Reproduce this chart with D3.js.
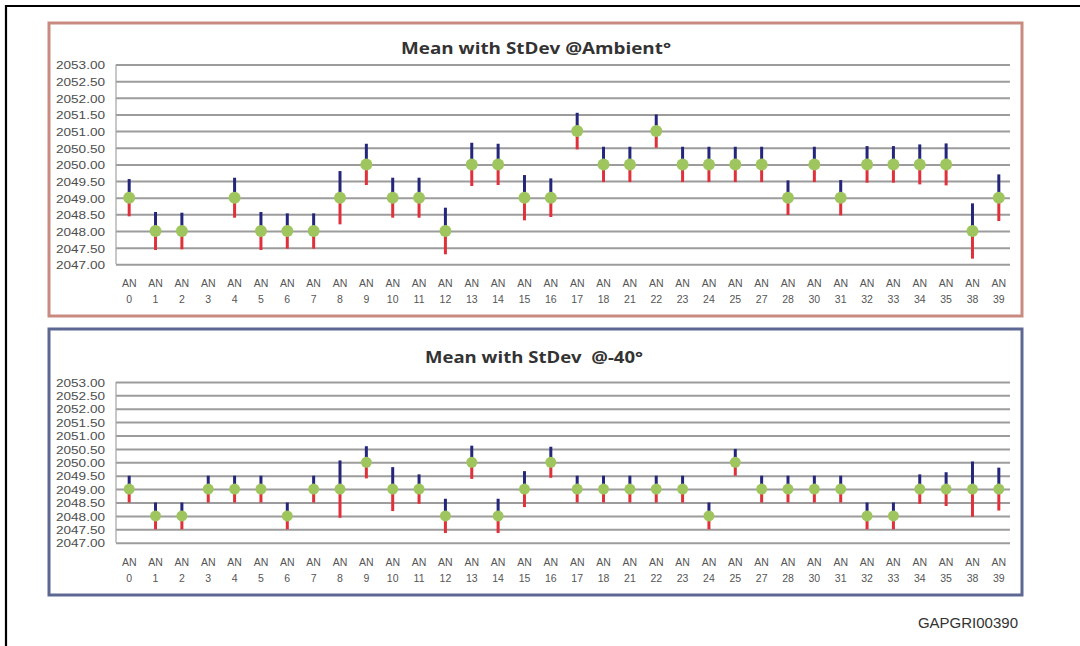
<!DOCTYPE html>
<html>
<head>
<meta charset="utf-8">
<script src="https://cdn.jsdelivr.net/npm/d3@7"></script>
<style>
  html, body { margin: 0; padding: 0; background: #ffffff; }
  svg { display: block; }
</style>
</head>
<body>
<svg id="chart" width="1080" height="646"></svg>
<script>
// Channel labels (AN n) shared by both panels
const categories = ["0","1","2","3","4","5","6","7","8","9","10","11","12","13","14","15","16","17","18",
                    "21","22","23","24","25","27","28","30","31","32","33","34","35","38","39"];

// Mean and standard deviation at ambient temperature (AN 3 has no reading)
const ambientMean = [2049,2048,2048,null,2049,2048,2048,2048,2049,2050,2049,2049,2048,2050,2050,2049,2049,2051,2050,
                     2050,2051,2050,2050,2050,2050,2049,2050,2049,2050,2050,2050,2050,2048,2049];
const ambientSd   = [0.56,0.57,0.55,null,0.6,0.57,0.53,0.53,0.8,0.62,0.6,0.6,0.7,0.65,0.62,0.68,0.58,0.55,0.53,
                     0.53,0.5,0.53,0.53,0.53,0.53,0.52,0.53,0.53,0.55,0.55,0.6,0.63,0.83,0.7];

// Mean and standard deviation at -40°
const coldMean = [2049,2048,2048,2049,2049,2049,2048,2049,2049,2050,2049,2049,2048,2050,2048,2049,2050,2049,2049,
                  2049,2049,2049,2048,2050,2049,2049,2049,2049,2048,2048,2049,2049,2049,2049];
const coldSd   = [0.5,0.5,0.5,0.5,0.5,0.5,0.5,0.5,1.07,0.6,0.82,0.55,0.64,0.62,0.64,0.67,0.58,0.5,0.5,
                  0.5,0.5,0.5,0.5,0.5,0.5,0.5,0.5,0.5,0.5,0.5,0.55,0.63,1.03,0.8];

// Value axis ticks
const yTicks = [2047,2047.5,2048,2048.5,2049,2049.5,2050,2050.5,2051,2051.5,2052,2052.5,2053];

const svg = d3.select("#chart");
const fmt = d3.format(".2f");

// Page frame
svg.append("line").attr("x1", 5).attr("x2", 1080).attr("y1", 6).attr("y2", 6)
  .attr("stroke", "#000").attr("stroke-width", 2.2);
svg.append("line").attr("x1", 6).attr("x2", 6).attr("y1", 5).attr("y2", 646)
  .attr("stroke", "#000").attr("stroke-width", 2.2);

function drawPanel(cfg) {
  const g = svg.append("g");

  // panel box
  g.append("rect")
    .attr("x", cfg.box[0]).attr("y", cfg.box[1])
    .attr("width", cfg.box[2]).attr("height", cfg.box[3])
    .attr("fill", "#ffffff")
    .attr("stroke", cfg.border).attr("stroke-width", 3);

  const x = d3.scaleBand().domain(categories).range([cfg.x0, cfg.x1]).padding(0);
  const y = d3.scaleLinear().domain([2047, 2053]).range([cfg.yBottom, cfg.yTop]);

  // gridlines + value labels
  const yAxis = d3.axisLeft(y)
    .tickValues(yTicks)
    .tickSizeInner(-(cfg.gridEnd - cfg.x0))
    .tickSizeOuter(0)
    .tickPadding(11)
    .tickFormat(fmt);
  const ya = g.append("g").attr("transform", `translate(${cfg.x0},0)`).call(yAxis);
  ya.select(".domain").remove();
  ya.selectAll(".tick line").attr("stroke", "#9c9c9c").attr("stroke-width", 2);
  ya.selectAll(".tick text")
    .attr("font-family", "Liberation Sans, Arial, sans-serif")
    .attr("font-size", cfg.yFont)
    .attr("fill", "#4d4d4d")
    .attr("textLength", 49)
    .attr("lengthAdjust", "spacingAndGlyphs")
    .attr("dy", "0.4em");

  // vertical axis line
  g.append("line")
    .attr("x1", cfg.x0).attr("x2", cfg.x0)
    .attr("y1", y(2053)).attr("y2", y(2047))
    .attr("stroke", "#a3a3a3").attr("stroke-width", 1.2);

  // category labels on two lines
  const xAxis = d3.axisBottom(x).tickSize(0).tickFormat("");
  const xa = g.append("g").attr("transform", `translate(0,${cfg.yBottom})`).call(xAxis);
  xa.select(".domain").remove();
  xa.selectAll(".tick").each(function(d) {
    const t = d3.select(this).append("text")
      .attr("font-family", "Liberation Sans, Arial, sans-serif")
      .attr("font-size", 10.5)
      .attr("fill", "#555")
      .attr("text-anchor", "middle");
    t.append("tspan").attr("x", 0).attr("y", cfg.anOffset).text("AN");
    t.append("tspan").attr("x", 0).attr("y", cfg.anOffset + 16).text(d);
  });

  // title
  g.append("text")
    .attr("x", cfg.titleX).attr("y", cfg.titleY)
    .attr("text-anchor", "middle")
    .attr("font-family", "Open Sans, Liberation Sans, sans-serif")
    .attr("font-weight", "bold")
    .attr("font-size", 16.5)
    .attr("fill", "#333")
    .attr("textLength", cfg.titleW)
    .attr("lengthAdjust", "spacingAndGlyphs")
    .attr("xml:space", "preserve")
    .text(cfg.title);

  const rows = categories.map((c, i) => ({ c, m: cfg.mean[i], s: cfg.sd[i] }))
    .filter(d => d.m != null);
  const cx = d => x(d.c) + x.bandwidth() / 2;

  // upper deviation
  g.append("g").selectAll("line").data(rows).join("line")
    .attr("x1", cx).attr("x2", cx)
    .attr("y1", d => y(d.m)).attr("y2", d => y(d.m + d.s))
    .attr("stroke", "#23267a").attr("stroke-width", 3);
  // lower deviation
  g.append("g").selectAll("line").data(rows).join("line")
    .attr("x1", cx).attr("x2", cx)
    .attr("y1", d => y(d.m)).attr("y2", d => y(d.m - d.s))
    .attr("stroke", "#e0313a").attr("stroke-width", 3);
  // mean markers
  g.append("g").selectAll("circle").data(rows).join("circle")
    .attr("cx", cx).attr("cy", d => y(d.m))
    .attr("r", cfg.r)
    .attr("fill", "#9fc65e");
}

drawPanel({
  box: [49, 23, 973, 293], border: "#c98a80",
  x0: 116, x1: 1012, gridEnd: 1010,
  yTop: 64.5, yBottom: 264.3, yFont: 11,
  anOffset: 23,
  title: "Mean with StDev @Ambient°", titleX: 536, titleY: 54, titleW: 270,
  mean: ambientMean, sd: ambientSd, r: 6
});

drawPanel({
  box: [49, 329, 973, 266], border: "#5c6892",
  x0: 116, x1: 1012, gridEnd: 1010,
  yTop: 381.9, yBottom: 542.7, yFont: 10.5,
  anOffset: 23,
  title: "Mean with StDev  @-40°", titleX: 534, titleY: 363, titleW: 218,
  mean: coldMean, sd: coldSd, r: 5.5
});

// document reference code
svg.append("text")
  .attr("x", 1018).attr("y", 628)
  .attr("text-anchor", "end")
  .attr("font-family", "Liberation Sans, Arial, sans-serif")
  .attr("font-size", 15)
  .attr("fill", "#333")
  .text("GAPGRI00390");
</script>
</body>
</html>
